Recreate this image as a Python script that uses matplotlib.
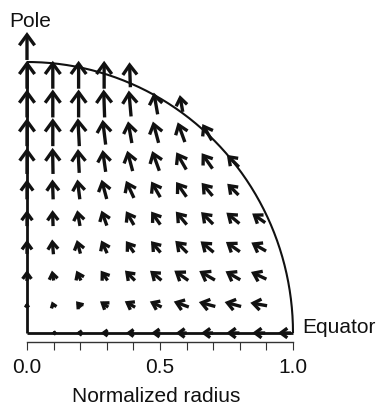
import numpy as np
import matplotlib
matplotlib.use("Agg")
import matplotlib.pyplot as plt

plt.rcParams['font.family'] = ['Liberation Sans', 'DejaVu Sans']

# ---- data ----
# arrow grid (centres of arrows), normalized radius units
x_grid = [0.0, 0.097, 0.194, 0.29, 0.387, 0.484, 0.58, 0.677, 0.774, 0.871, 0.968]
y_grid = [0.0, 0.106, 0.212, 0.318, 0.424, 0.53, 0.635, 0.741, 0.847, 0.953, 1.059]

N = None
# arrow length (flow speed) per row, bottom (equator) row first
speed = [
    [N, .011, .019, .026, .030, .034, .041, .045, .049, .049, .049],
    [.015, .023, .030, .038, .045, .049, .060, .064, .064, .064, N],
    [.041, .038, .041, .045, .053, .056, .064, .068, .064, .064, N],
    [.053, .056, .053, .053, .053, .056, .064, .064, .064, .064, N],
    [.060, .060, .060, .060, .060, .060, .064, .064, .064, .060, N],
    [.075, .075, .075, .075, .071, .068, .068, .064, .060, N, N],
    [.098, .098, .090, .083, .079, .079, .075, .071, .064, N, N],
    [.105, .105, .105, .094, .083, .083, .079, .071, N, N, N],
    [.105, .105, .105, .105, .098, .083, .064, N, N, N, N],
    [.105, .105, .105, .105, .094, N, N, N, N, N, N],
    [.105, N, N, N, N, N, N, N, N, N, N],
]
# arrow direction in degrees (0 = toward equator edge, 90 = toward pole)
angle = [
    [N, 180, 180, 180, 180, 180, 180, 180, 180, 180, 180],
    [90, 110, 130, 145, 150, 155, 160, 165, 165, 170, N],
    [90, 100, 115, 125, 135, 140, 145, 150, 150, 155, N],
    [90, 95, 105, 115, 125, 130, 135, 140, 145, 150, N],
    [90, 92, 100, 110, 120, 125, 130, 135, 140, 145, N],
    [90, 92, 97, 105, 115, 120, 125, 130, 135, N, N],
    [90, 91, 93, 98, 105, 110, 120, 125, 135, N, N],
    [90, 90, 93, 97, 100, 105, 110, 120, N, N, N],
    [90, 90, 90, 92, 95, 100, 100, N, N, N, N],
    [90, 90, 90, 90, 92, N, N, N, N, N, N],
    [90, N, N, N, N, N, N, N, N, N, N],
]

tick_values = [0.0, 0.1, 0.2, 0.3, 0.4, 0.5, 0.6, 0.7, 0.8, 0.9, 1.0]
tick_labels = ['0.0', '', '', '', '', '0.5', '', '', '', '', '1.0']

# ---- figure ----
W, H, DPI = 378, 405, 100
fig = plt.figure(figsize=(W / DPI, H / DPI), dpi=DPI)
ax = fig.add_axes([0, 0, 1, 1])
x0_px, ux = 27.0, 266.0
y0_px, uy = 333.0, 271.0
ax.set_xlim((0 - x0_px) / ux, (W - x0_px) / ux)
ax.set_ylim((y0_px - H) / uy, (y0_px - 0) / uy)

ink = '#111111'

# boundary: quarter circle, equator line, pole axis
th = np.linspace(0, np.pi / 2, 200)
ax.plot(np.cos(th), np.sin(th), color=ink, lw=1.5, solid_capstyle='butt')
ax.plot([0, 1], [0, 0], color=ink, lw=2.0, solid_capstyle='butt')
ax.plot([0, 0], [0, 1.0], color=ink, lw=2.0, solid_capstyle='butt')

pt_per_unit = ux * 72.0 / DPI
for k, yv in enumerate(y_grid):
    for i, xv in enumerate(x_grid):
        s = speed[k][i]
        a = angle[k][i]
        if s is None or a is None:
            continue
        r = np.deg2rad(a)
        dx, dy = s * np.cos(r), s * np.sin(r) * ux / uy
        tail = (xv - dx / 2, yv - dy / 2)
        tip = (xv + dx / 2, yv + dy / 2)
        L_pt = s * pt_per_unit
        ms = min(3.0 + 0.35 * L_pt, 0.8 * L_pt)
        ax.annotate('', xy=tip, xytext=tail,
                    arrowprops=dict(arrowstyle='->,head_length=0.75,head_width=0.55',
                                    lw=2.4, color=ink, shrinkA=0, shrinkB=0,
                                    mutation_scale=ms, joinstyle='miter',
                                    capstyle='butt'))

# x axis (offset below the equator line)
for side in ['left', 'right', 'top']:
    ax.spines[side].set_visible(False)
ax.spines['bottom'].set_position(('data', (y0_px - 342) / uy))
ax.spines['bottom'].set_bounds(0, 1)
ax.spines['bottom'].set_color('#333333')
ax.spines['bottom'].set_linewidth(1.0)
ax.set_xticks(tick_values)
ax.set_xticklabels(tick_labels)
ax.tick_params(axis='x', direction='out', length=5.8, width=0.8, color='#333333',
               labelsize=15, pad=5.5, labelcolor=ink)
ax.set_yticks([])

ax.text((9 - x0_px) / ux, (y0_px - 27) / uy, 'Pole', fontsize=15, color=ink,
        ha='left', va='baseline')
ax.text((302 - x0_px) / ux, 0.0, 'Equator', fontsize=15, color=ink,
        ha='left', va='baseline')
ax.text((156 - x0_px) / ux, (y0_px - 402) / uy, 'Normalized radius', fontsize=15,
        color=ink, ha='center', va='baseline')

fig.savefig('out.png', dpi=DPI)
